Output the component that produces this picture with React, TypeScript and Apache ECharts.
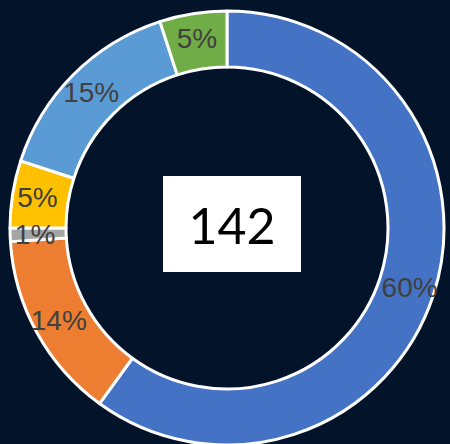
import React, { useEffect, useRef } from "react";
import * as echarts from "echarts";

const categories = ["A", "B", "C", "D", "E", "F"];
const values = [60, 14, 1, 5, 15, 5];
const colors = ["#4472C4", "#ED7D31", "#A5A5A5", "#FFC000", "#5B9BD5", "#70AD47"];
const centerValue = "142";

export default function App() {
  const ref = useRef<HTMLDivElement>(null);
  useEffect(() => {
    document.body.style.margin = "0";
    const chart = echarts.init(ref.current!, null, { renderer: "svg" });
    chart.setOption({
      animation: false,
      backgroundColor: "#03142a",
      series: [
        {
          type: "pie",
          center: [227, 228],
          radius: [161, 217],
          startAngle: 90,
          clockwise: true,
          avoidLabelOverlap: false,
          itemStyle: { borderColor: "#ffffff", borderWidth: 3 },
          label: {
            show: true,
            position: "inside",
            formatter: "{d}%",
            fontFamily: "Liberation Sans, Arial, sans-serif",
            fontSize: 28,
            color: "#404040",
          },
          labelLine: { show: false },
          emphasis: { disabled: true },
          data: categories.map((c, i) => ({
            name: c,
            value: values[i],
            itemStyle: { color: colors[i] },
          })),
        },
      ],
      graphic: [
        {
          type: "rect",
          shape: { x: 163, y: 176, width: 138, height: 96 },
          style: { fill: "#ffffff" },
          z: 10,
        },
        {
          type: "text",
          x: 232,
          y: 225,
          style: {
            text: centerValue,
            fill: "#000000",
            fontFamily: "Lato, Carlito, sans-serif",
            fontSize: 50,
            align: "center",
            verticalAlign: "middle",
          },
          z: 11,
        },
      ],
    });
    return () => chart.dispose();
  }, []);
  return (
    <div
      ref={ref}
      style={{ position: "absolute", left: 0, top: 0, width: 450, height: 444 }}
    />
  );
}
